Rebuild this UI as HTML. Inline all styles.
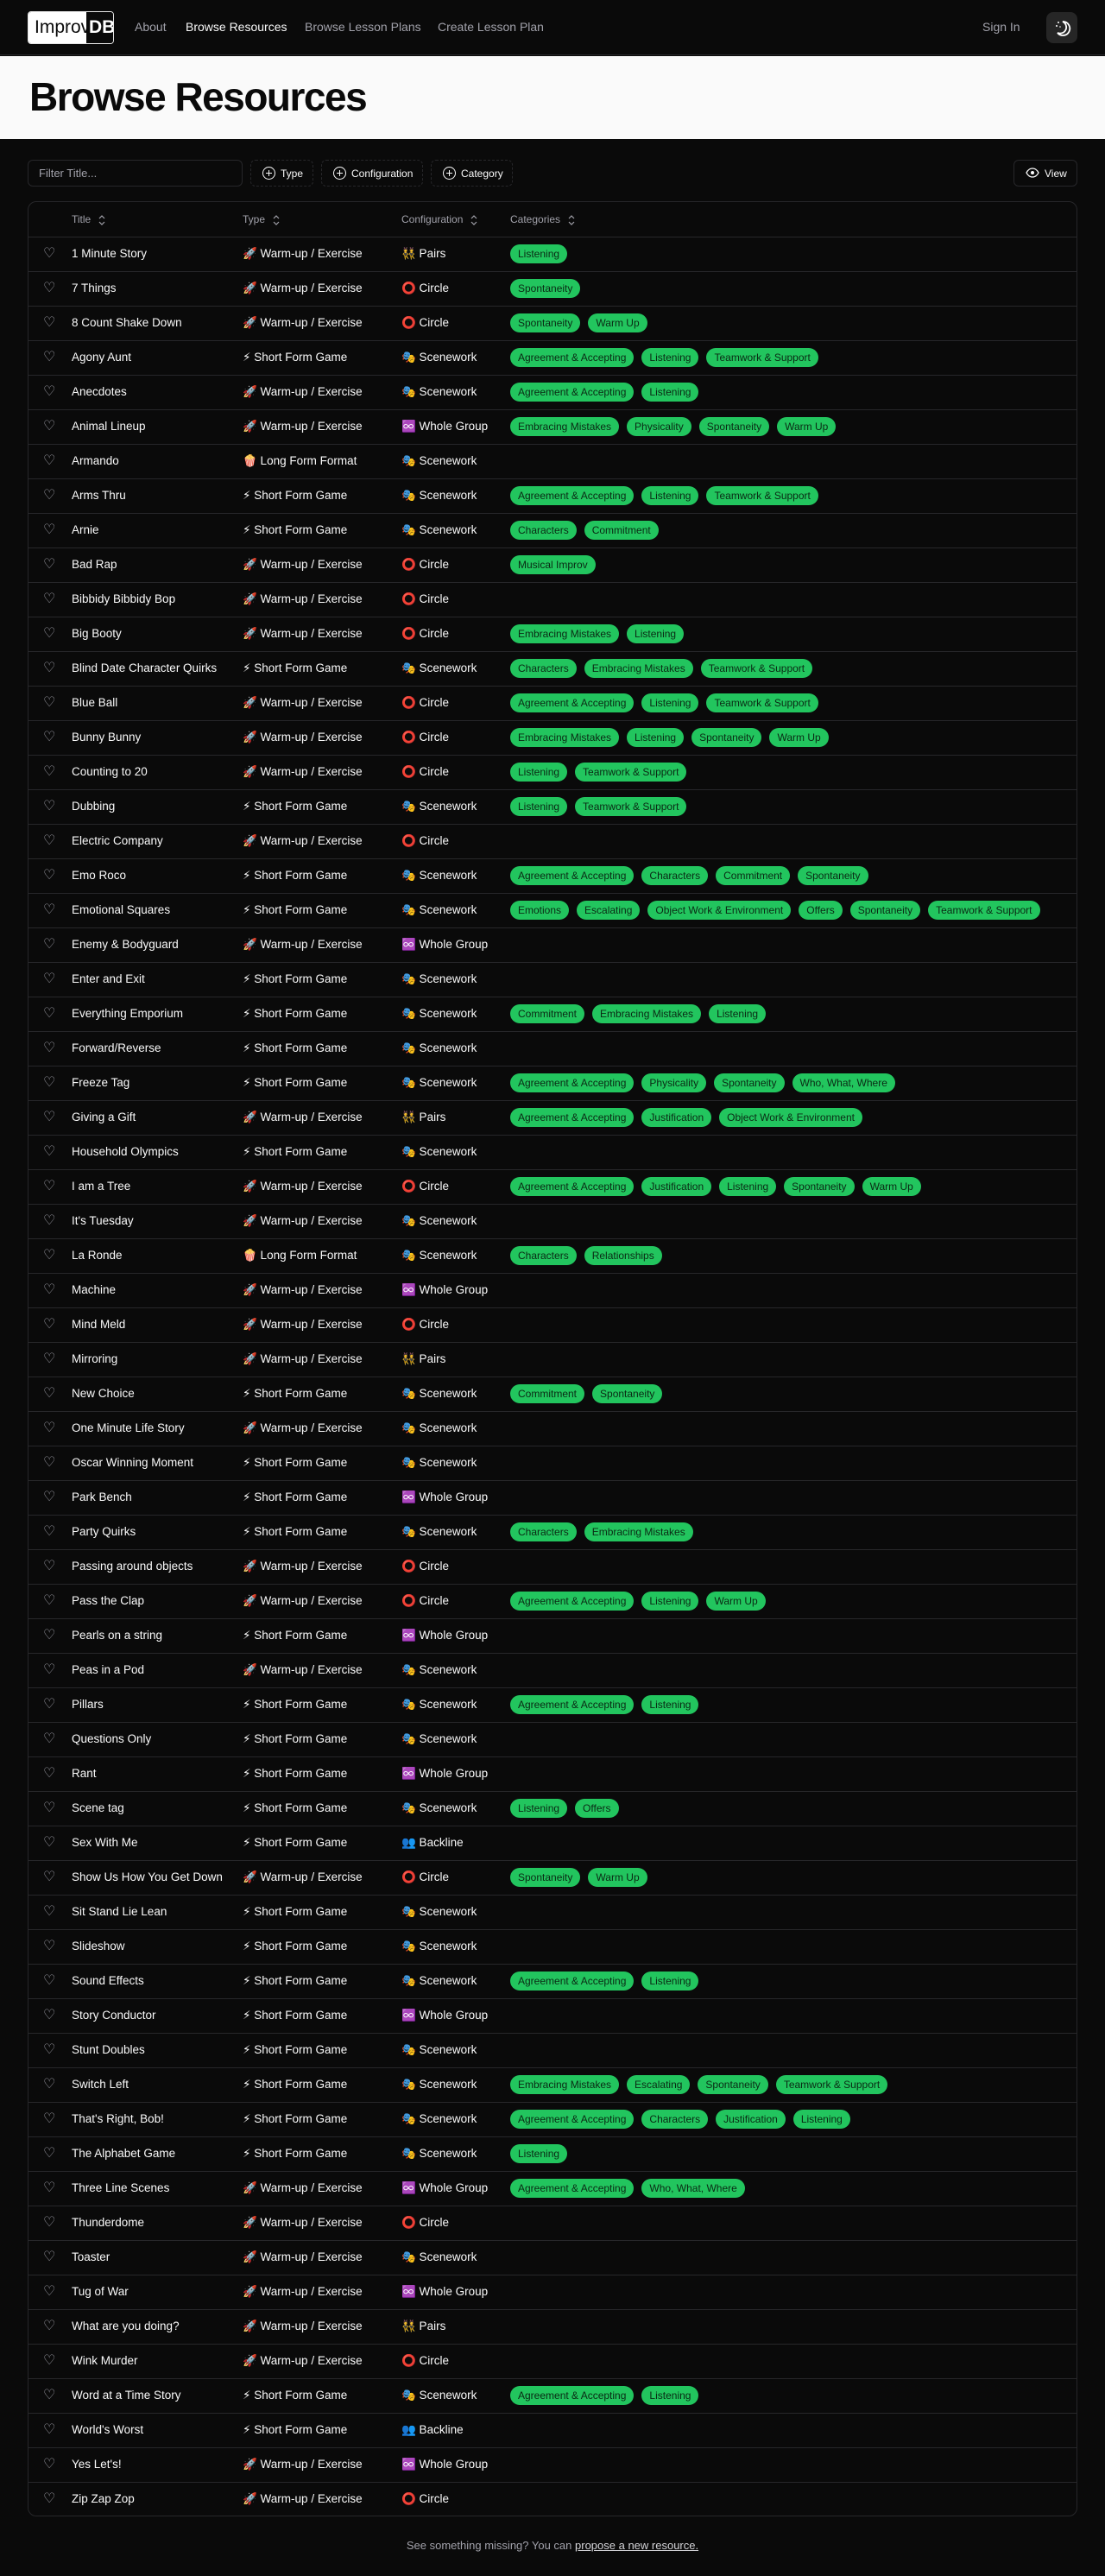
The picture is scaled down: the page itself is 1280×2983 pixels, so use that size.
<!DOCTYPE html>
<html><head><meta charset="utf-8"><style>
*{box-sizing:border-box;margin:0;padding:0}
body{width:1280px;height:2983px;background:#0a0a0a;color:#fafafa;font-family:"Liberation Sans","DejaVu Sans",sans-serif;font-size:13.5px;position:relative;overflow:hidden}
.nav{position:absolute;left:0;top:0;width:1280px;height:64px;border-bottom:1px solid #27272a}
.logo{position:absolute;left:32px;top:13px;width:100px;height:38px;border:1px solid #e5e5e5;border-radius:4px;overflow:hidden;display:flex;font-size:21px;line-height:36px}
.logo .a{background:#fff;color:#0a0a0a;width:67px;padding-left:7px}
.logo .b{background:#0a0a0a;color:#fff;flex:1;padding-left:3px;font-weight:bold}
.nl{position:absolute;top:23px;font-size:14px;color:#a1a1aa}
.tog{position:absolute;left:1212px;top:14px;width:36px;height:36px;border-radius:8px;background:#262626}
.hero{position:absolute;left:0;top:65px;width:1280px;height:96px;background:#fafafa}
.hero h1{position:absolute;left:34px;top:20px;font-size:46px;color:#0a0a0a;letter-spacing:-1.5px;font-weight:bold}
.inp{position:absolute;left:32px;top:185px;width:249px;height:31px;border:1px solid #27272a;border-radius:6px;color:#a1a1aa;font-size:13px;padding:7px 12px}
.btn{position:absolute;top:185px;height:31px;border:1px dashed #27272a;border-radius:6px;font-size:12px;padding:8px 0 0 13px;display:flex;gap:6px}
.pl{width:15px;height:15px;border:1.3px solid #fafafa;border-radius:50%;position:relative;margin-top:-1px}
.pl:before{content:"";position:absolute;left:6px;top:3px;width:1.3px;height:7px;background:#fafafa}
.pl:after{content:"";position:absolute;left:3px;top:6px;width:7px;height:1.3px;background:#fafafa}
.tbl{position:absolute;left:32px;top:233px;width:1216px;height:2681px;border:1px solid #27272a;border-radius:10px;overflow:hidden}
.h,.r{position:relative;height:40px;border-bottom:1px solid #27272a}
.h{height:41px;color:#a1a1aa;font-size:12px}
.h span,.r span{position:absolute;top:0;line-height:38px;white-space:nowrap}
.h span{line-height:40px}
.t{left:50px}.y{left:248px}.c{left:432px}.g{left:558px}
.r i{position:absolute;left:17px;top:0;line-height:38px;font-style:normal;color:#a1a1aa;font-size:16px}
.r:last-child{border-bottom:none}
.g b{display:inline-block;background:#22c55e;color:#0a2a14;font-weight:normal;font-size:12px;height:22px;line-height:22px;padding:0 9px;border-radius:11px;margin-right:9px;vertical-align:middle}
.s{display:inline-block;width:8px;height:12px;margin-left:9px;vertical-align:middle}
.foot{position:absolute;top:2940px;left:0;width:1280px;text-align:center;color:#a1a1aa;font-size:13px}
.foot u{color:#d4d4d8}
</style></head><body>
<div class="nav">
<div class="logo"><div class="a">Improv</div><div class="b">DB</div></div>
<span class="nl" style="left:156px">About</span>
<span class="nl" style="left:215px;color:#fafafa">Browse Resources</span>
<span class="nl" style="left:353px">Browse Lesson Plans</span>
<span class="nl" style="left:507px">Create Lesson Plan</span>
<span class="nl" style="left:1138px">Sign In</span>
<div class="tog"><svg width="36" height="36" viewBox="0 0 36 36"><path d="M19 11a8 8 0 1 1-6 13 7 7 0 0 0 6-13z" fill="none" stroke="#fff" stroke-width="1.8"/><circle cx="14" cy="12" r="1" fill="#fff"/><circle cx="12" cy="16" r="1" fill="#fff"/><circle cx="16" cy="17" r="0.8" fill="#fff"/></svg></div>
</div>
<div class="hero"><h1>Browse Resources</h1></div>
<div class="inp">Filter Title...</div>
<div class="btn" style="left:290px;width:73px"><div class="pl"></div>Type</div>
<div class="btn" style="left:372px;width:118px"><div class="pl"></div>Configuration</div>
<div class="btn" style="left:499px;width:95px"><div class="pl"></div>Category</div>
<div class="btn" style="left:1174px;width:74px;border-style:solid"><svg width="16" height="12" viewBox="0 0 16 12"><path d="M1 6C3 2 6 1 8 1s5 1 7 5c-2 4-5 5-7 5S3 10 1 6z" fill="none" stroke="#fff" stroke-width="1.3"/><circle cx="8" cy="6" r="2" fill="#fff"/></svg>View</div>
<div class="tbl">
<div class="h"><span class="t">Title<svg class="s" viewBox="0 0 8 12"><path d="M1 4l3-3 3 3M1 8l3 3 3-3" fill="none" stroke="#a1a1aa" stroke-width="1.2"/></svg></span><span class="y">Type<svg class="s" viewBox="0 0 8 12"><path d="M1 4l3-3 3 3M1 8l3 3 3-3" fill="none" stroke="#a1a1aa" stroke-width="1.2"/></svg></span><span class="c">Configuration<svg class="s" viewBox="0 0 8 12"><path d="M1 4l3-3 3 3M1 8l3 3 3-3" fill="none" stroke="#a1a1aa" stroke-width="1.2"/></svg></span><span class="g">Categories<svg class="s" viewBox="0 0 8 12"><path d="M1 4l3-3 3 3M1 8l3 3 3-3" fill="none" stroke="#a1a1aa" stroke-width="1.2"/></svg></span></div>
<div class="r"><i>♡</i><span class="t">1 Minute Story</span><span class="y">🚀 Warm-up / Exercise</span><span class="c">👯 Pairs</span><span class="g"><b>Listening</b></span></div>
<div class="r"><i>♡</i><span class="t">7 Things</span><span class="y">🚀 Warm-up / Exercise</span><span class="c">⭕ Circle</span><span class="g"><b>Spontaneity</b></span></div>
<div class="r"><i>♡</i><span class="t">8 Count Shake Down</span><span class="y">🚀 Warm-up / Exercise</span><span class="c">⭕ Circle</span><span class="g"><b>Spontaneity</b><b>Warm Up</b></span></div>
<div class="r"><i>♡</i><span class="t">Agony Aunt</span><span class="y">⚡ Short Form Game</span><span class="c">🎭 Scenework</span><span class="g"><b>Agreement &amp; Accepting</b><b>Listening</b><b>Teamwork &amp; Support</b></span></div>
<div class="r"><i>♡</i><span class="t">Anecdotes</span><span class="y">🚀 Warm-up / Exercise</span><span class="c">🎭 Scenework</span><span class="g"><b>Agreement &amp; Accepting</b><b>Listening</b></span></div>
<div class="r"><i>♡</i><span class="t">Animal Lineup</span><span class="y">🚀 Warm-up / Exercise</span><span class="c">♾️ Whole Group</span><span class="g"><b>Embracing Mistakes</b><b>Physicality</b><b>Spontaneity</b><b>Warm Up</b></span></div>
<div class="r"><i>♡</i><span class="t">Armando</span><span class="y">🍿 Long Form Format</span><span class="c">🎭 Scenework</span></div>
<div class="r"><i>♡</i><span class="t">Arms Thru</span><span class="y">⚡ Short Form Game</span><span class="c">🎭 Scenework</span><span class="g"><b>Agreement &amp; Accepting</b><b>Listening</b><b>Teamwork &amp; Support</b></span></div>
<div class="r"><i>♡</i><span class="t">Arnie</span><span class="y">⚡ Short Form Game</span><span class="c">🎭 Scenework</span><span class="g"><b>Characters</b><b>Commitment</b></span></div>
<div class="r"><i>♡</i><span class="t">Bad Rap</span><span class="y">🚀 Warm-up / Exercise</span><span class="c">⭕ Circle</span><span class="g"><b>Musical Improv</b></span></div>
<div class="r"><i>♡</i><span class="t">Bibbidy Bibbidy Bop</span><span class="y">🚀 Warm-up / Exercise</span><span class="c">⭕ Circle</span></div>
<div class="r"><i>♡</i><span class="t">Big Booty</span><span class="y">🚀 Warm-up / Exercise</span><span class="c">⭕ Circle</span><span class="g"><b>Embracing Mistakes</b><b>Listening</b></span></div>
<div class="r"><i>♡</i><span class="t">Blind Date Character Quirks</span><span class="y">⚡ Short Form Game</span><span class="c">🎭 Scenework</span><span class="g"><b>Characters</b><b>Embracing Mistakes</b><b>Teamwork &amp; Support</b></span></div>
<div class="r"><i>♡</i><span class="t">Blue Ball</span><span class="y">🚀 Warm-up / Exercise</span><span class="c">⭕ Circle</span><span class="g"><b>Agreement &amp; Accepting</b><b>Listening</b><b>Teamwork &amp; Support</b></span></div>
<div class="r"><i>♡</i><span class="t">Bunny Bunny</span><span class="y">🚀 Warm-up / Exercise</span><span class="c">⭕ Circle</span><span class="g"><b>Embracing Mistakes</b><b>Listening</b><b>Spontaneity</b><b>Warm Up</b></span></div>
<div class="r"><i>♡</i><span class="t">Counting to 20</span><span class="y">🚀 Warm-up / Exercise</span><span class="c">⭕ Circle</span><span class="g"><b>Listening</b><b>Teamwork &amp; Support</b></span></div>
<div class="r"><i>♡</i><span class="t">Dubbing</span><span class="y">⚡ Short Form Game</span><span class="c">🎭 Scenework</span><span class="g"><b>Listening</b><b>Teamwork &amp; Support</b></span></div>
<div class="r"><i>♡</i><span class="t">Electric Company</span><span class="y">🚀 Warm-up / Exercise</span><span class="c">⭕ Circle</span></div>
<div class="r"><i>♡</i><span class="t">Emo Roco</span><span class="y">⚡ Short Form Game</span><span class="c">🎭 Scenework</span><span class="g"><b>Agreement &amp; Accepting</b><b>Characters</b><b>Commitment</b><b>Spontaneity</b></span></div>
<div class="r"><i>♡</i><span class="t">Emotional Squares</span><span class="y">⚡ Short Form Game</span><span class="c">🎭 Scenework</span><span class="g"><b>Emotions</b><b>Escalating</b><b>Object Work &amp; Environment</b><b>Offers</b><b>Spontaneity</b><b>Teamwork &amp; Support</b></span></div>
<div class="r"><i>♡</i><span class="t">Enemy &amp; Bodyguard</span><span class="y">🚀 Warm-up / Exercise</span><span class="c">♾️ Whole Group</span></div>
<div class="r"><i>♡</i><span class="t">Enter and Exit</span><span class="y">⚡ Short Form Game</span><span class="c">🎭 Scenework</span></div>
<div class="r"><i>♡</i><span class="t">Everything Emporium</span><span class="y">⚡ Short Form Game</span><span class="c">🎭 Scenework</span><span class="g"><b>Commitment</b><b>Embracing Mistakes</b><b>Listening</b></span></div>
<div class="r"><i>♡</i><span class="t">Forward/Reverse</span><span class="y">⚡ Short Form Game</span><span class="c">🎭 Scenework</span></div>
<div class="r"><i>♡</i><span class="t">Freeze Tag</span><span class="y">⚡ Short Form Game</span><span class="c">🎭 Scenework</span><span class="g"><b>Agreement &amp; Accepting</b><b>Physicality</b><b>Spontaneity</b><b>Who, What, Where</b></span></div>
<div class="r"><i>♡</i><span class="t">Giving a Gift</span><span class="y">🚀 Warm-up / Exercise</span><span class="c">👯 Pairs</span><span class="g"><b>Agreement &amp; Accepting</b><b>Justification</b><b>Object Work &amp; Environment</b></span></div>
<div class="r"><i>♡</i><span class="t">Household Olympics</span><span class="y">⚡ Short Form Game</span><span class="c">🎭 Scenework</span></div>
<div class="r"><i>♡</i><span class="t">I am a Tree</span><span class="y">🚀 Warm-up / Exercise</span><span class="c">⭕ Circle</span><span class="g"><b>Agreement &amp; Accepting</b><b>Justification</b><b>Listening</b><b>Spontaneity</b><b>Warm Up</b></span></div>
<div class="r"><i>♡</i><span class="t">It's Tuesday</span><span class="y">🚀 Warm-up / Exercise</span><span class="c">🎭 Scenework</span></div>
<div class="r"><i>♡</i><span class="t">La Ronde</span><span class="y">🍿 Long Form Format</span><span class="c">🎭 Scenework</span><span class="g"><b>Characters</b><b>Relationships</b></span></div>
<div class="r"><i>♡</i><span class="t">Machine</span><span class="y">🚀 Warm-up / Exercise</span><span class="c">♾️ Whole Group</span></div>
<div class="r"><i>♡</i><span class="t">Mind Meld</span><span class="y">🚀 Warm-up / Exercise</span><span class="c">⭕ Circle</span></div>
<div class="r"><i>♡</i><span class="t">Mirroring</span><span class="y">🚀 Warm-up / Exercise</span><span class="c">👯 Pairs</span></div>
<div class="r"><i>♡</i><span class="t">New Choice</span><span class="y">⚡ Short Form Game</span><span class="c">🎭 Scenework</span><span class="g"><b>Commitment</b><b>Spontaneity</b></span></div>
<div class="r"><i>♡</i><span class="t">One Minute Life Story</span><span class="y">🚀 Warm-up / Exercise</span><span class="c">🎭 Scenework</span></div>
<div class="r"><i>♡</i><span class="t">Oscar Winning Moment</span><span class="y">⚡ Short Form Game</span><span class="c">🎭 Scenework</span></div>
<div class="r"><i>♡</i><span class="t">Park Bench</span><span class="y">⚡ Short Form Game</span><span class="c">♾️ Whole Group</span></div>
<div class="r"><i>♡</i><span class="t">Party Quirks</span><span class="y">⚡ Short Form Game</span><span class="c">🎭 Scenework</span><span class="g"><b>Characters</b><b>Embracing Mistakes</b></span></div>
<div class="r"><i>♡</i><span class="t">Passing around objects</span><span class="y">🚀 Warm-up / Exercise</span><span class="c">⭕ Circle</span></div>
<div class="r"><i>♡</i><span class="t">Pass the Clap</span><span class="y">🚀 Warm-up / Exercise</span><span class="c">⭕ Circle</span><span class="g"><b>Agreement &amp; Accepting</b><b>Listening</b><b>Warm Up</b></span></div>
<div class="r"><i>♡</i><span class="t">Pearls on a string</span><span class="y">⚡ Short Form Game</span><span class="c">♾️ Whole Group</span></div>
<div class="r"><i>♡</i><span class="t">Peas in a Pod</span><span class="y">🚀 Warm-up / Exercise</span><span class="c">🎭 Scenework</span></div>
<div class="r"><i>♡</i><span class="t">Pillars</span><span class="y">⚡ Short Form Game</span><span class="c">🎭 Scenework</span><span class="g"><b>Agreement &amp; Accepting</b><b>Listening</b></span></div>
<div class="r"><i>♡</i><span class="t">Questions Only</span><span class="y">⚡ Short Form Game</span><span class="c">🎭 Scenework</span></div>
<div class="r"><i>♡</i><span class="t">Rant</span><span class="y">⚡ Short Form Game</span><span class="c">♾️ Whole Group</span></div>
<div class="r"><i>♡</i><span class="t">Scene tag</span><span class="y">⚡ Short Form Game</span><span class="c">🎭 Scenework</span><span class="g"><b>Listening</b><b>Offers</b></span></div>
<div class="r"><i>♡</i><span class="t">Sex With Me</span><span class="y">⚡ Short Form Game</span><span class="c">👥 Backline</span></div>
<div class="r"><i>♡</i><span class="t">Show Us How You Get Down</span><span class="y">🚀 Warm-up / Exercise</span><span class="c">⭕ Circle</span><span class="g"><b>Spontaneity</b><b>Warm Up</b></span></div>
<div class="r"><i>♡</i><span class="t">Sit Stand Lie Lean</span><span class="y">⚡ Short Form Game</span><span class="c">🎭 Scenework</span></div>
<div class="r"><i>♡</i><span class="t">Slideshow</span><span class="y">⚡ Short Form Game</span><span class="c">🎭 Scenework</span></div>
<div class="r"><i>♡</i><span class="t">Sound Effects</span><span class="y">⚡ Short Form Game</span><span class="c">🎭 Scenework</span><span class="g"><b>Agreement &amp; Accepting</b><b>Listening</b></span></div>
<div class="r"><i>♡</i><span class="t">Story Conductor</span><span class="y">⚡ Short Form Game</span><span class="c">♾️ Whole Group</span></div>
<div class="r"><i>♡</i><span class="t">Stunt Doubles</span><span class="y">⚡ Short Form Game</span><span class="c">🎭 Scenework</span></div>
<div class="r"><i>♡</i><span class="t">Switch Left</span><span class="y">⚡ Short Form Game</span><span class="c">🎭 Scenework</span><span class="g"><b>Embracing Mistakes</b><b>Escalating</b><b>Spontaneity</b><b>Teamwork &amp; Support</b></span></div>
<div class="r"><i>♡</i><span class="t">That's Right, Bob!</span><span class="y">⚡ Short Form Game</span><span class="c">🎭 Scenework</span><span class="g"><b>Agreement &amp; Accepting</b><b>Characters</b><b>Justification</b><b>Listening</b></span></div>
<div class="r"><i>♡</i><span class="t">The Alphabet Game</span><span class="y">⚡ Short Form Game</span><span class="c">🎭 Scenework</span><span class="g"><b>Listening</b></span></div>
<div class="r"><i>♡</i><span class="t">Three Line Scenes</span><span class="y">🚀 Warm-up / Exercise</span><span class="c">♾️ Whole Group</span><span class="g"><b>Agreement &amp; Accepting</b><b>Who, What, Where</b></span></div>
<div class="r"><i>♡</i><span class="t">Thunderdome</span><span class="y">🚀 Warm-up / Exercise</span><span class="c">⭕ Circle</span></div>
<div class="r"><i>♡</i><span class="t">Toaster</span><span class="y">🚀 Warm-up / Exercise</span><span class="c">🎭 Scenework</span></div>
<div class="r"><i>♡</i><span class="t">Tug of War</span><span class="y">🚀 Warm-up / Exercise</span><span class="c">♾️ Whole Group</span></div>
<div class="r"><i>♡</i><span class="t">What are you doing?</span><span class="y">🚀 Warm-up / Exercise</span><span class="c">👯 Pairs</span></div>
<div class="r"><i>♡</i><span class="t">Wink Murder</span><span class="y">🚀 Warm-up / Exercise</span><span class="c">⭕ Circle</span></div>
<div class="r"><i>♡</i><span class="t">Word at a Time Story</span><span class="y">⚡ Short Form Game</span><span class="c">🎭 Scenework</span><span class="g"><b>Agreement &amp; Accepting</b><b>Listening</b></span></div>
<div class="r"><i>♡</i><span class="t">World's Worst</span><span class="y">⚡ Short Form Game</span><span class="c">👥 Backline</span></div>
<div class="r"><i>♡</i><span class="t">Yes Let's!</span><span class="y">🚀 Warm-up / Exercise</span><span class="c">♾️ Whole Group</span></div>
<div class="r"><i>♡</i><span class="t">Zip Zap Zop</span><span class="y">🚀 Warm-up / Exercise</span><span class="c">⭕ Circle</span></div>
</div>
<div class="foot">See something missing? You can <u>propose a new resource.</u></div>
</body></html>
